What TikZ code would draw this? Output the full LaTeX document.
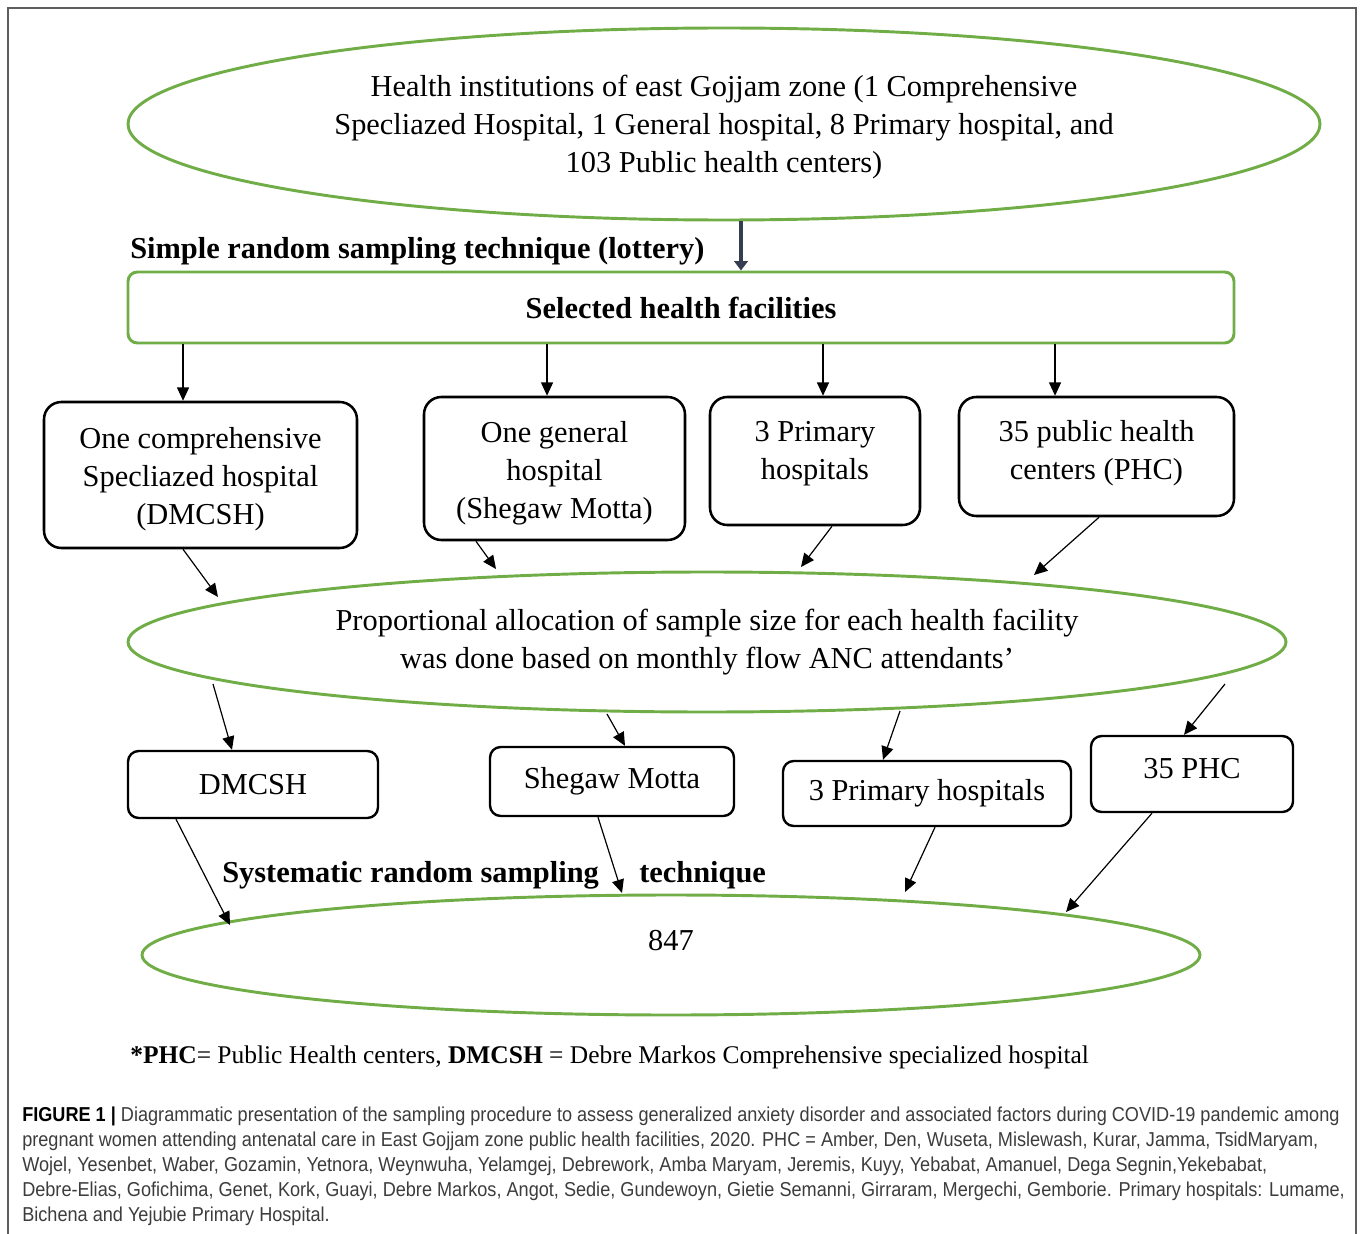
\documentclass[tikz,border=0pt]{standalone}
\usepackage{xcolor}
\usepackage{fontspec}
\setmainfont{Liberation Serif}
\newfontfamily\capfont[FakeStretch=0.9]{Liberation Sans}
\usetikzlibrary{shapes.geometric,arrows.meta}

\definecolor{ovalgreen}{RGB}{112,173,71}
\definecolor{framegray}{RGB}{95,95,95}
\definecolor{arrowslate}{RGB}{52,62,80}
\definecolor{captext}{RGB}{60,60,60}

\begin{document}
\begin{tikzpicture}[x=0.75pt,y=-0.75pt,
    big/.style={font=\fontsize{22.8}{28.5}\selectfont},
    oval/.style={ellipse, draw=ovalgreen, line width=2.2pt, inner sep=-5pt, align=center, big},
    facbox/.style={draw, rounded corners=13pt, line width=1.9pt, inner sep=0pt, align=center, big},
    smallbox/.style={draw, rounded corners=8pt, line width=1.8pt, inner sep=0pt, align=center, big},
    boxtext/.style={big, align=center},
    arr/.style={-{Triangle[length=10pt,width=9pt]}, line width=0.9pt},
    thickarr/.style={-{Triangle[length=7pt,width=10pt]}, line width=3pt, arrowslate}]
  \useasboundingbox (0,0) rectangle (1360,1234);
  % outer frame
  \draw[framegray, line width=1.2pt] (8,1234) -- (8,8) -- (1356,8) -- (1356,1234);

  % top oval and lottery step
  \node[oval, minimum width=894pt, minimum height=144pt,
        label={[boxtext, yshift=-2.25pt]center:{Health institutions of east Gojjam zone (1 Comprehensive\\
          Specliazed Hospital, 1 General hospital, 8 Primary hospital, and\\
          103 Public health centers)}}] (e1) at (724,124) {};
  \node[big, anchor=west, inner sep=0pt] (lottery) at (130,251)
    {\textbf{Simple random sampling technique (lottery)}};
  \node[draw=ovalgreen, line width=2.2pt, rounded corners=7pt, big,
        minimum width=829.5pt, minimum height=53.25pt] (sel) at (681,307.5)
    {\textbf{Selected health facilities}};
  \draw[thickarr] ([xshift=12.75pt]e1.south) -- ([xshift=12.75pt]e1.south |- sel.north);

  % selected facilities
  \node[facbox, minimum width=234.75pt, minimum height=109.5pt,
        label={[boxtext, yshift=-3pt]center:{One comprehensive\\ Specliazed hospital\\ (DMCSH)}}] (b1) at (200.5,475) {};
  \node[facbox, minimum width=195.75pt, minimum height=107.25pt,
        label={[boxtext, yshift=-3.75pt]center:{One general\\ hospital\\ (Shegaw Motta)}}] (b2) at (554.5,468.5) {};
  \node[facbox, minimum width=157.5pt, minimum height=96pt,
        label={[boxtext, yshift=5.25pt]center:{3 Primary\\ hospitals}}] (b3) at (815,461) {};
  \node[facbox, minimum width=206.25pt, minimum height=89.25pt,
        label={[boxtext, yshift=2.25pt]center:{35 public health\\ centers (PHC)}}] (b4) at (1096.5,456.5) {};

  \coordinate (t1) at ([xshift=-13.1pt]b1.north);
  \coordinate (t2) at ([xshift=-5.6pt]b2.north);
  \coordinate (t3) at ([xshift=6pt]b3.north);
  \coordinate (t4) at ([xshift=-31.1pt]b4.north);
  \foreach \t in {t1,t2,t3,t4}
    \draw[arr] (\t |- sel.south) -- (\t);

  % allocation oval
  \node[oval, minimum width=868.5pt, minimum height=105pt] (e2) at (707,642)
    {Proportional allocation of sample size for each health facility\\
     was done based on monthly flow ANC attendants’};
  \draw[arr] ([xshift=-13.1pt]b1.south) -- ([shift={(-489,-45)}]e2.center);
  \draw[arr] ([xshift=-58.9pt]b2.south) -- ([shift={(-211,-73)}]e2.center);
  \draw[arr] ([xshift=12.75pt]b3.south) -- ([shift={(94,-75)}]e2.center);
  \draw[arr] ([xshift=1.9pt]b4.south) -- ([shift={(327,-67)}]e2.center);

  % allocated facilities
  \node[smallbox, minimum width=187.5pt, minimum height=50.25pt] (c1) at (253,784.5) {DMCSH};
  \node[smallbox, minimum width=183pt, minimum height=51.75pt] (c2) at (612,781.5) {Shegaw Motta};
  \node[smallbox, minimum width=216pt, minimum height=48.75pt] (c3) at (927,793.5) {3 Primary hospitals};
  \node[smallbox, minimum width=151.5pt, minimum height=57pt,
        label={[boxtext, yshift=3.75pt]center:35 PHC}] (c4) at (1192,774) {};
  \draw[arr] ([shift={(-494,42)}]e2.center) -- ([xshift=-15.75pt]c1.north);
  \draw[arr] ([shift={(-100,72)}]e2.center) -- ([xshift=9.75pt]c2.north);
  \draw[arr] ([shift={(193,69)}]e2.center) -- ([xshift=-33pt]c3.north);
  \draw[arr] ([shift={(518,42)}]e2.center) -- ([xshift=-6pt]c4.north);

  % systematic step and total
  \node[big, anchor=west, inner sep=0pt] (sys) at (222,875) {\textbf{Systematic random sampling}};
  \node[big, anchor=west, inner sep=0pt] (tech) at (639,875) {\textbf{technique}};
  \node[ellipse, draw=ovalgreen, line width=2.2pt, minimum width=793.5pt, minimum height=90pt] (e3) at (671,955) {};
  \node[big] (total) at (671,941) {847};
  \draw[arr] ([xshift=-57.75pt]c1.south) -- ([shift={(-441,-30)}]e3.center);
  \draw[arr] ([xshift=-10.5pt]c2.south) -- ([shift={(-49,-62)}]e3.center);
  \draw[arr] ([xshift=6pt]c3.south) -- ([shift={(234,-63)}]e3.center);
  \draw[arr] ([xshift=-30pt]c4.south) -- ([shift={(395,-43)}]e3.center);

  % abbreviations and caption
  \node[anchor=west, inner sep=0pt, font=\fontsize{19.1}{22}\selectfont] (note) at (130,1057)
    {\textbf{*PHC}= Public Health centers, \textbf{DMCSH} = Debre Markos Comprehensive specialized hospital};
  \node[anchor=north west, inner sep=0pt, align=left, text=captext,
        font=\capfont\fontsize{15.1}{18.75}\selectfont] (cap) at (22,1107)
    {\textcolor{black}{\textbf{FIGURE 1 |}} Diagrammatic presentation of the sampling procedure to assess generalized anxiety disorder and associated factors during COVID-19 pandemic among\\
     pregnant women attending antenatal care in East Gojjam zone public health facilities, 2020. PHC = Amber, Den, Wuseta, Mislewash, Kurar, Jamma, TsidMaryam,\\
     Wojel, Yesenbet, Waber, Gozamin, Yetnora, Weynwuha, Yelamgej, Debrework, Amba Maryam, Jeremis, Kuyy, Yebabat, Amanuel, Dega Segnin,Yekebabat,\\
     Debre-Elias, Gofichima, Genet, Kork, Guayi, Debre Markos, Angot, Sedie, Gundewoyn, Gietie Semanni, Girraram, Mergechi, Gemborie. Primary hospitals: Lumame,\\
     Bichena and Yejubie Primary Hospital.};
\end{tikzpicture}
\end{document}
